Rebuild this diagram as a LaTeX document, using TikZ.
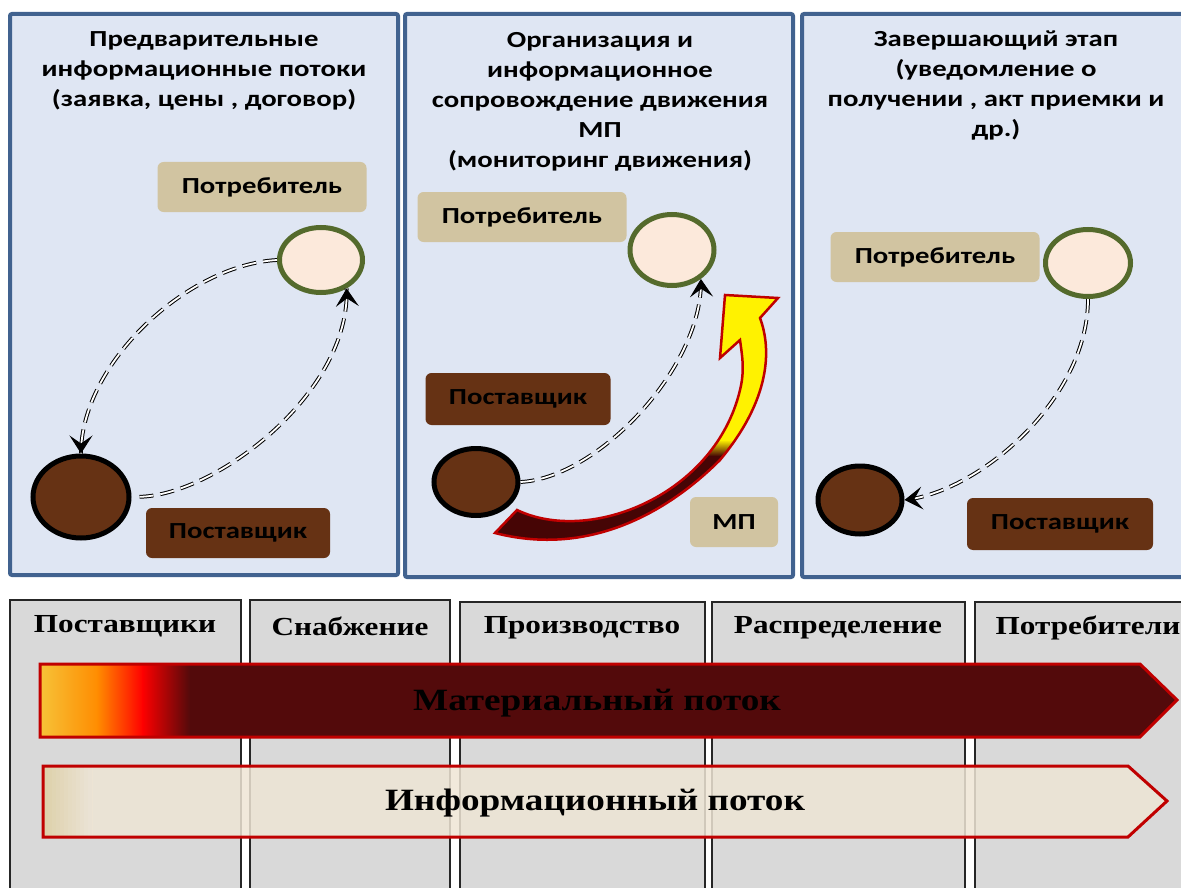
\documentclass[tikz,border=0pt]{standalone}
\usepackage{fontspec}
\usetikzlibrary{shapes.geometric,arrows.meta}

\newfontfamily\boxfont{Carlito}[FakeStretch=1.25]
\newfontfamily\tabfont{Liberation Serif}[FakeStretch=1.2]

\definecolor{panelbg}{HTML}{DFE6F3}
\definecolor{panelline}{HTML}{41628F}
\definecolor{tagtan}{HTML}{D1C4A1}
\definecolor{bark}{HTML}{663214}
\definecolor{consfill}{HTML}{FCE9DB}
\definecolor{consline}{HTML}{546A2C}
\definecolor{flowred}{HTML}{C00000}
\definecolor{flowdark}{HTML}{530A0B}
\definecolor{taildark}{HTML}{460505}
\definecolor{mpyellow}{HTML}{FFF200}
\definecolor{colgray}{HTML}{D9D9D9}
\definecolor{paper}{HTML}{EEE5D5}
\definecolor{paperblend}{HTML}{EBE3D6}
\definecolor{sand}{HTML}{DDD0A8}
\definecolor{gold}{HTML}{F6C43A}
\definecolor{fire}{HTML}{FF8C00}

\begin{document}
\begin{tikzpicture}[x=1pt, y=-1pt,
    panel/.style={draw=panelline, line width=4pt, fill=panelbg, rounded corners=2pt},
    paneltitle/.style={anchor=north, align=center, inner sep=0pt,
        font=\boxfont\bfseries\fontsize{23}{30}\selectfont},
    tagbox/.style={rounded corners=6pt, minimum height=50pt, inner sep=0pt,
        font=\boxfont\bfseries\fontsize{23}{26}\selectfont},
    consnode/.style={ellipse, draw=consline, line width=5pt, fill=consfill, inner sep=0pt},
    supnode/.style={ellipse, draw=black, line width=5pt, fill=bark, inner sep=0pt},
    linkline/.style={preaction={draw, -, double=white, double distance=1.8pt,
        line width=1pt, dash pattern=on 14pt off 7pt},
        draw, line width=1pt, dash pattern=on 0pt off 3000pt,
        -{Stealth[length=18pt, width=23pt, inset=8pt]}},
    colbox/.style={draw=black!85, line width=1.5pt, fill=colgray},
    colhead/.style={font=\tabfont\bfseries\fontsize{26}{30}\selectfont},
    flowband/.style={draw=flowred, line width=3pt},
    flowtext/.style={font=\tabfont\bfseries\fontsize{31}{36}\selectfont}]
\useasboundingbox (0,0) rectangle (1181,888);

% three stages
\draw[panel] (10,14) rectangle (398,575);
\draw[panel] (405,14) rectangle (793,577);
\draw[panel] (802,14) rectangle (1195,577);

\node[paneltitle] (title1) at (204,31) {Предварительные\\информационные потоки\\(заявка, цены , договор)};
\node[paneltitle] (title2) at (600,32) {Организация и\\информационное\\сопровождение движения\\МП\\(мониторинг движения)};
\node[paneltitle] (title3) at (996,31) {Завершающий этап\\(уведомление о\\получении , акт приемки и\\др.)};

% stage 1
\node[tagbox, fill=tagtan, minimum width=209pt] (cons1lbl) at (262,187) {Потребитель};
\node[consnode, minimum width=83pt, minimum height=65pt] (cons1) at (321,260) {};
\node[supnode, minimum width=96pt, minimum height=82pt] (sup1) at (81,497) {};
\node[tagbox, fill=bark, minimum width=184pt] (sup1lbl) at (238,533) {Поставщик};
\draw[linkline] (cons1.west) .. controls +(-90,5) and +(0,-90) .. (sup1.north);
\draw[linkline, shorten <=8pt] (sup1.east) .. controls +(85,-2) and +(4,104) .. (cons1.-48);

% stage 2
\node[tagbox, fill=tagtan, minimum width=209pt] (cons2lbl) at (522,217) {Потребитель};
\node[consnode, minimum width=84pt, minimum height=71pt] (cons2) at (672,250) {};
\node[tagbox, fill=bark, minimum width=185pt, minimum height=52pt] (sup2lbl) at (518,399) {Поставщик};
\node[supnode, minimum width=84pt, minimum height=67pt] (sup2) at (476,482) {};
\node[tagbox, fill=tagtan, minimum width=88pt] (mplbl) at (734,522) {МП};
\draw[linkline] (sup2.east) .. controls +(78,-4) and +(3,87) .. (cons2.-45);

% material flow arrow
\draw[flowred, line width=2.5pt, line join=miter, path picture={
    \fill[taildark] (480,280) rectangle (800,560);
    \shade[top color=mpyellow, bottom color=taildark] (480,440) rectangle (800,456);
    \fill[mpyellow] (480,280) rectangle (800,441);
  }]
  (495,533) -- (517,510) .. controls (590,545) and (715,495) .. (740,390)
  .. controls (745,370) and (742,355) .. (740,340) -- (720,358) -- (725,295)
  -- (778,298) -- (760,318) .. controls (772,350) and (770,400) .. (720,460)
  .. controls (680,500) and (600,560) .. (495,533) -- cycle;

% stage 3
\node[tagbox, fill=tagtan, minimum width=209pt] (cons3lbl) at (935,257) {Потребитель};
\node[consnode, minimum width=85pt, minimum height=67pt] (cons3) at (1088,263) {};
\node[supnode, minimum width=84pt, minimum height=68pt] (sup3) at (860,500) {};
\node[tagbox, fill=bark, minimum width=186pt, minimum height=52pt] (sup3lbl) at (1060,524) {Поставщик};
\draw[linkline] (cons3.south) .. controls +(0,100) and +(75,-8) .. (sup3.east);

% supply chain columns
\draw[colbox] (10,600) rectangle (241,900);
\draw[colbox] (250,600) rectangle (450,900);
\draw[colbox] (460,602) rectangle (705,900);
\draw[colbox] (712,602) rectangle (965,900);
\draw[colbox] (975,602) rectangle (1200,900);
\node[colhead] (head1) at (125,626) {Поставщики};
\node[colhead] (head2) at (350,626) {Снабжение};
\node[colhead] (head3) at (582,628) {Производство};
\node[colhead] (head4) at (838,628) {Распределение};
\node[colhead] (head5) at (1088,628) {Потребители};

% flows
\draw[flowband, path picture={
    \fill[flowdark] (30,655) rectangle (1190,745);
    \shade[left color=gold, right color=fire] (38,655) rectangle (98,745);
    \shade[left color=fire, right color=red] (97,655) rectangle (143,745);
    \shade[left color=red, right color=flowdark] (142,655) rectangle (190,745);
  }]
  (40,664) -- (1140,664) -- (1177,700) -- (1140,737) -- (40,737) -- cycle;
\node[flowtext] (matflow) at (597,703) {Материальный поток};

\draw[flowband, path picture={
    \foreach \i [evaluate=\i as \p using int(100-8*\i)] in {0,...,12}
      \fill[sand!\p!paperblend] (40+4*\i,760) rectangle (44.6+4*\i,845);
    \fill[paper, opacity=0.85] (92,760) rectangle (1190,845);
  }]
  (43,766) -- (1128,766) -- (1167,801) -- (1128,837) -- (43,837) -- cycle;
\node[flowtext] (infflow) at (595,803) {Информационный поток};
\end{tikzpicture}
\end{document}
